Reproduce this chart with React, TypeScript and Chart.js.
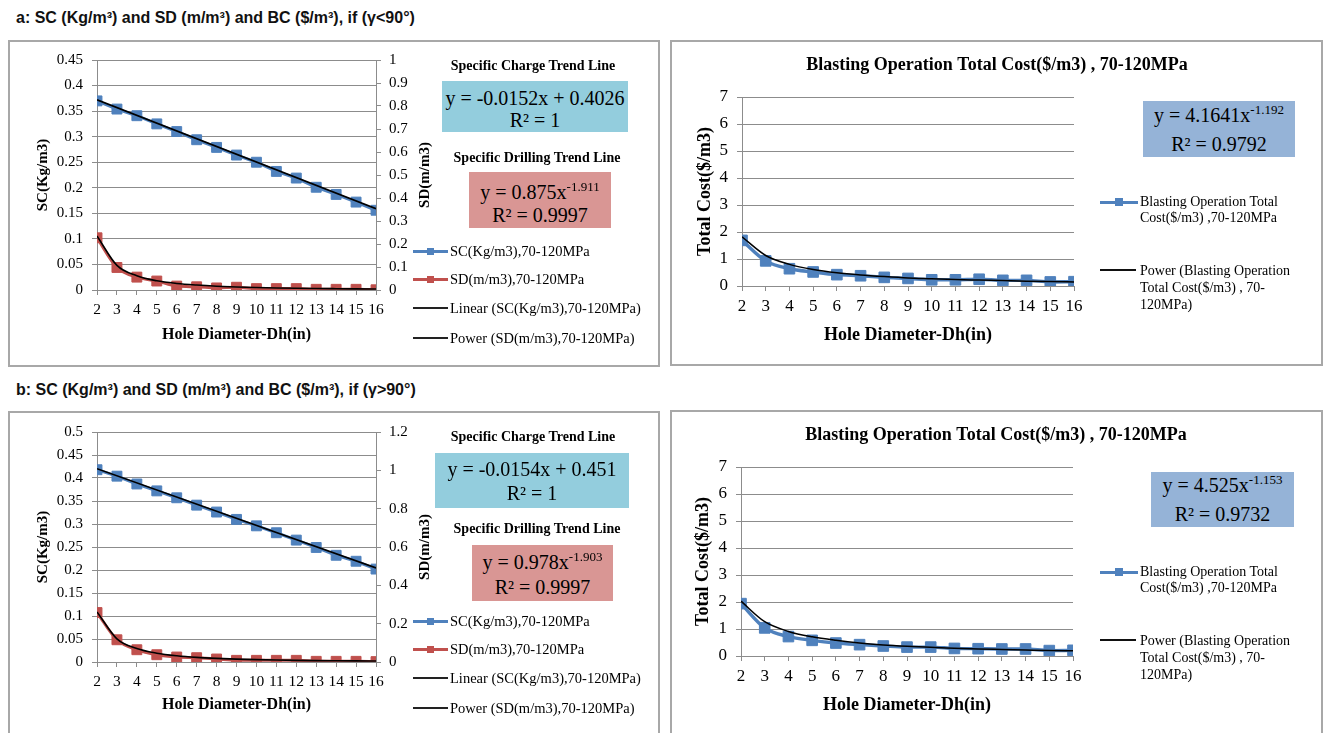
import React, { useEffect, useRef } from "react";
import { Chart, registerables } from "chart.js";

Chart.register(...registerables);
Chart.defaults.font.family = '"Liberation Serif", "Times New Roman", serif';
Chart.defaults.color = "#000";

// ---------- data ----------
const DIAMETERS = [2, 3, 4, 5, 6, 7, 8, 9, 10, 11, 12, 13, 14, 15, 16];
const LINEAR_TREND_X = [2, 16];

// case a (γ<90°)
const SC_A = [0.37, 0.354, 0.341, 0.325, 0.31, 0.294, 0.279, 0.264, 0.25, 0.232, 0.219, 0.201, 0.187, 0.172, 0.156];
const SD_A = [0.227, 0.098, 0.056, 0.039, 0.017, 0.014, 0.009, 0.012, 0.006, 0.006, 0.006, 0.003, 0.003, 0.003, 0.001];
const SC_TREND_A = [0.372, 0.159];
const SD_TREND_A = [0.235, 0.107, 0.062, 0.04, 0.0285, 0.0215, 0.0165, 0.0131, 0.0108, 0.009, 0.0076, 0.0065, 0.0057, 0.005, 0.0044];
const BC_A = [1.69, 0.93, 0.64, 0.52, 0.42, 0.38, 0.32, 0.28, 0.23, 0.23, 0.25, 0.21, 0.21, 0.15, 0.16];
const BC_TREND_A = [1.82, 1.13, 0.8, 0.61, 0.49, 0.41, 0.35, 0.3, 0.27, 0.24, 0.22, 0.2, 0.18, 0.165, 0.152];

// case b (γ>90°)
const SC_B = [0.418, 0.404, 0.387, 0.372, 0.357, 0.341, 0.326, 0.31, 0.296, 0.281, 0.265, 0.249, 0.232, 0.219, 0.202];
const SD_B = [0.258, 0.116, 0.064, 0.038, 0.026, 0.0225, 0.0156, 0.0087, 0.0087, 0.0087, 0.0087, 0.0035, 0.0035, 0.0035, 0.002];
const SC_TREND_B = [0.4202, 0.2046];
const SD_TREND_B = [0.2615, 0.121, 0.07, 0.0458, 0.0323, 0.024, 0.0187, 0.0149, 0.0122, 0.0101, 0.0086, 0.0074, 0.0065, 0.0057, 0.0051];
const BC_B = [1.94, 1.04, 0.72, 0.58, 0.48, 0.42, 0.37, 0.33, 0.33, 0.28, 0.27, 0.26, 0.26, 0.2, 0.21];
const BC_TREND_B = [2.03, 1.27, 0.91, 0.71, 0.58, 0.48, 0.41, 0.36, 0.32, 0.29, 0.26, 0.24, 0.22, 0.2, 0.19];

// axis ranges (tick labels)
const SC_AXIS_A = { max: 0.45, step: 0.05 };
const SD_AXIS_A = { max: 1, step: 0.1 };
const SC_AXIS_B = { max: 0.5, step: 0.05 };
const SD_AXIS_B = { max: 1.2, step: 0.2 };
const BC_AXIS = { max: 7, step: 1 };

// texts
const SECTION_A = "a: SC (Kg/m³) and SD (m/m³) and BC ($/m³), if (γ<90°)";
const SECTION_B = "b: SC (Kg/m³) and SD (m/m³) and BC ($/m³), if (γ>90°)";
const X_TITLE = "Hole Diameter-Dh(in)";
const SC_TITLE = "SC(Kg/m3)";
const SD_TITLE = "SD(m/m3)";
const BC_Y_TITLE = "Total Cost($/m3)";
const BC_CHART_TITLE = "Blasting Operation Total Cost($/m3) , 70-120MPa";
const LEG_SC = "SC(Kg/m3),70-120MPa";
const LEG_SD = "SD(m/m3),70-120MPa";
const LEG_LIN = "Linear (SC(Kg/m3),70-120MPa)";
const LEG_POW = "Power (SD(m/m3),70-120MPa)";
const LEG_BC = ["Blasting Operation Total", "Cost($/m3) ,70-120MPa"];
const LEG_BC_POW = ["Power (Blasting Operation", "Total Cost($/m3) , 70-", "120MPa)"];

// ---------- styles ----------
const BLUE = "#4F81BD";
const RED = "#C0504D";
const GRID = "#8c8c8c";
const SERIF = '"Liberation Serif", "Times New Roman", serif';

const pts = (xs: number[], ys: number[]) => xs.map((x, i) => ({ x, y: ys[i] }));
const fmt = (v: any) => String(parseFloat(Number(v).toFixed(3)));

const sideTitlePlugin = {
  id: "sideTitle",
  afterDraw(chart: any, _args: any, opts: any) {
    if (!opts || !opts.text) return;
    const { ctx, chartArea } = chart;
    ctx.save();
    ctx.translate(opts.x, (chartArea.top + chartArea.bottom) / 2);
    ctx.rotate(-Math.PI / 2);
    ctx.textAlign = "center";
    ctx.textBaseline = "middle";
    ctx.fillStyle = "#000";
    ctx.font = `bold ${opts.size}px ${SERIF}`;
    ctx.fillText(opts.text, 0, 0);
    ctx.restore();
  },
};

function dualConfig(o: any) {
  return {
    type: "line",
    data: {
      datasets: [
        { label: LEG_LIN, data: pts(LINEAR_TREND_X, o.scTrend), yAxisID: "y", borderColor: "#000", borderWidth: 1.6, pointRadius: 0, order: 0 },
        { label: LEG_POW, data: pts(DIAMETERS, o.sdTrend), yAxisID: "y1", borderColor: "#000", borderWidth: 1.6, pointRadius: 0, cubicInterpolationMode: "monotone", order: 0 },
        { label: LEG_SC, data: pts(DIAMETERS, o.sc), yAxisID: "y", borderColor: BLUE, backgroundColor: BLUE, borderWidth: 3, pointStyle: "rect", pointRadius: 7, pointBorderWidth: 1, pointBackgroundColor: BLUE, pointBorderColor: BLUE, order: 1 },
        { label: LEG_SD, data: pts(DIAMETERS, o.sd), yAxisID: "y1", borderColor: RED, backgroundColor: RED, borderWidth: 3, pointStyle: "rect", pointRadius: 7, pointBorderWidth: 1, pointBackgroundColor: RED, pointBorderColor: RED, cubicInterpolationMode: "monotone", order: 1 },
      ],
    },
    options: {
      animation: false,
      responsive: false,
      devicePixelRatio: 1,
      layout: { padding: o.padding },
      plugins: {
        legend: { display: false },
        tooltip: { enabled: false },
        sideTitle: { text: SD_TITLE, x: o.sideX, size: 15 },
      },
      scales: {
        x: {
          type: "linear", min: 2, max: 16,
          ticks: { stepSize: 1, autoSkip: false, maxRotation: 0, font: { size: 15.5 }, color: "#000", padding: 6 },
          grid: { drawOnChartArea: false, drawTicks: true, tickLength: 5, color: GRID },
          border: { display: true, color: GRID },
          title: { display: true, text: X_TITLE, font: { size: 16, weight: "bold" }, color: "#000", padding: 0 },
          afterFit: (s: any) => { s.height = o.xHeight; },
        },
        y: {
          position: "left", min: 0, max: o.yAxis.max,
          ticks: { stepSize: o.yAxis.step, font: { size: 15 }, color: "#000", padding: 9, callback: fmt },
          grid: { color: GRID, tickLength: 5 },
          border: { display: true, color: GRID },
          title: { display: true, text: SC_TITLE, font: { size: 15, weight: "bold" }, color: "#000", padding: 0 },
          afterFit: (s: any) => { s.width = o.yWidth; },
        },
        y1: {
          position: "right", min: 0, max: o.y1Axis.max,
          ticks: { stepSize: o.y1Axis.step, font: { size: 15 }, color: "#000", padding: 8, callback: fmt },
          grid: { drawOnChartArea: false, color: GRID, tickLength: 5 },
          border: { display: true, color: GRID },
          afterFit: (s: any) => { s.width = o.y1Width; },
        },
      },
    },
    plugins: [sideTitlePlugin],
  };
}

function costConfig(o: any) {
  return {
    type: "line",
    data: {
      datasets: [
        { label: LEG_BC_POW.join(" "), data: pts(DIAMETERS, o.trend), borderColor: "#000", borderWidth: 1.5, pointRadius: 0, cubicInterpolationMode: "monotone", order: 0 },
        { label: LEG_BC.join(" "), data: pts(DIAMETERS, o.bc), borderColor: BLUE, backgroundColor: BLUE, borderWidth: 3.4, pointStyle: "rect", pointRadius: 7.5, pointBorderWidth: 1, pointBackgroundColor: BLUE, pointBorderColor: BLUE, cubicInterpolationMode: "monotone", order: 1 },
      ],
    },
    options: {
      animation: false,
      responsive: false,
      devicePixelRatio: 1,
      layout: { padding: o.padding },
      plugins: {
        legend: { display: false },
        tooltip: { enabled: false },
        title: { display: true, text: BC_CHART_TITLE, font: { size: 18, weight: "bold" }, color: "#000", padding: { top: 11.2, bottom: 21.2 } },
      },
      scales: {
        x: {
          type: "linear", min: 2, max: 16,
          ticks: { stepSize: 1, autoSkip: false, maxRotation: 0, font: { size: 17 }, color: "#000", padding: 5 },
          grid: { drawOnChartArea: false, drawTicks: true, tickLength: 5, color: GRID },
          border: { display: true, color: GRID },
          title: { display: true, text: X_TITLE, font: { size: 18, weight: "bold" }, color: "#000", padding: 0 },
          afterFit: (s: any) => { s.height = o.xHeight; },
        },
        y: {
          position: "left", min: 0, max: BC_AXIS.max,
          ticks: { stepSize: BC_AXIS.step, font: { size: 17 }, color: "#000", padding: 9, callback: fmt },
          grid: { color: GRID, tickLength: 5 },
          border: { display: true, color: GRID },
          title: { display: true, text: BC_Y_TITLE, font: { size: 18, weight: "bold" }, color: "#000", padding: 0 },
          afterFit: (s: any) => { s.width = o.yWidth; },
        },
        yR: {
          position: "right", display: true,
          ticks: { display: false },
          grid: { display: false, drawTicks: false },
          border: { display: false },
          afterFit: (s: any) => { s.width = o.yRWidth; },
        },
      },
    },
  };
}

function ChartCanvas({ config, left, top, width, height }: any) {
  const ref = useRef<HTMLCanvasElement>(null);
  useEffect(() => {
    const chart = new Chart(ref.current as HTMLCanvasElement, config);
    return () => chart.destroy();
  }, []);
  return (
    <canvas
      ref={ref}
      width={width}
      height={height}
      style={{ position: "absolute", left, top, width, height }}
    />
  );
}

function Panel({ left, top, width, height }: any) {
  return (
    <div
      style={{
        position: "absolute", left, top, width, height, boxSizing: "border-box",
        border: "2px solid #a8a8a8", background: "#fff",
      }}
    />
  );
}

function Sample({ x, y, w, color, lw, marker }: any) {
  return (
    <>
      <div style={{ position: "absolute", left: x, top: y - lw / 2, width: w, height: lw, background: color }} />
      {marker ? (
        <div style={{ position: "absolute", left: x + w / 2 - marker / 2, top: y - marker / 2, width: marker, height: marker, background: color }} />
      ) : null}
    </>
  );
}

function TextLines({ x, y, lines, size, lh }: any) {
  return (
    <div
      style={{
        position: "absolute", left: x, top: y - lh / 2, fontFamily: SERIF, fontSize: size,
        lineHeight: `${lh}px`, whiteSpace: "nowrap", color: "#000",
      }}
    >
      {lines.map((l: string, i: number) => (
        <div key={i}>{l}</div>
      ))}
    </div>
  );
}

function CenterText({ cx, cy, text, size, bold }: any) {
  return (
    <div
      style={{
        position: "absolute", left: cx - 150, width: 300, top: cy - size * 0.6, textAlign: "center",
        fontFamily: SERIF, fontSize: size, fontWeight: bold ? "bold" : "normal", lineHeight: `${size * 1.2}px`,
        whiteSpace: "nowrap", color: "#000",
      }}
    >
      {text}
    </div>
  );
}

function EqBox({ left, top, width, height, bg, padTop, lh, size, line1, sup, line2 }: any) {
  return (
    <div
      style={{
        position: "absolute", left, top, width, height, background: bg, boxSizing: "border-box",
        paddingTop: padTop, textAlign: "center", fontFamily: SERIF, color: "#000",
      }}
    >
      <div style={{ fontSize: size, lineHeight: `${lh}px`, whiteSpace: "nowrap" }}>
        {line1}
        {sup ? <span style={{ fontSize: 13, position: "relative", top: -8 }}>{sup}</span> : null}
      </div>
      <div style={{ fontSize: size, lineHeight: `${lh}px`, whiteSpace: "nowrap" }}>{line2}</div>
    </div>
  );
}

function SectionLabel({ top, text }: any) {
  return (
    <div
      style={{
        position: "absolute", left: 16, top, fontFamily: '"Liberation Sans", Arial, sans-serif',
        fontWeight: "bold", fontSize: 16, lineHeight: "20px", whiteSpace: "nowrap", color: "#111",
      }}
    >
      {text}
    </div>
  );
}

function DualLegend({ rows }: any) {
  const items = [
    { label: LEG_SC, color: BLUE, lw: 3, marker: 7 },
    { label: LEG_SD, color: RED, lw: 3, marker: 7 },
    { label: LEG_LIN, color: "#222", lw: 1.5, marker: 0 },
    { label: LEG_POW, color: "#222", lw: 1.5, marker: 0 },
  ];
  return (
    <>
      {items.map((it, i) => (
        <React.Fragment key={i}>
          <Sample x={413} y={rows[i]} w={35} color={it.color} lw={it.lw} marker={it.marker} />
          <TextLines x={450} y={rows[i]} lines={[it.label]} size={14.5} lh={17} />
        </React.Fragment>
      ))}
    </>
  );
}

function CostLegend({ y1, y2 }: any) {
  return (
    <>
      <Sample x={1100} y={y1} w={38} color={BLUE} lw={3} marker={8} />
      <TextLines x={1140} y={y1} lines={LEG_BC} size={14} lh={16.5} />
      <Sample x={1100} y={y2} w={36} color="#111" lw={1.5} marker={0} />
      <TextLines x={1140} y={y2} lines={LEG_BC_POW} size={14} lh={17} />
    </>
  );
}

export default function App() {
  const cfgTL = dualConfig({
    sc: SC_A, sd: SD_A, scTrend: SC_TREND_A, sdTrend: SD_TREND_A,
    yAxis: SC_AXIS_A, y1Axis: SD_AXIS_A,
    padding: { left: 24, top: 17, right: 6, bottom: 17.4 },
    yWidth: 63, y1Width: 58, xHeight: 54.6, sideX: 415,
  });
  const cfgBL = dualConfig({
    sc: SC_B, sd: SD_B, scTrend: SC_TREND_B, sdTrend: SD_TREND_B,
    yAxis: SC_AXIS_B, y1Axis: SD_AXIS_B,
    padding: { left: 24, top: 17, right: 6, bottom: 16.4 },
    yWidth: 63, y1Width: 58, xHeight: 52.6, sideX: 415,
  });
  const cfgTR = costConfig({
    bc: BC_A, trend: BC_TREND_A,
    padding: { left: 22.2, top: 0, right: 22.2, bottom: 17.2 },
    yWidth: 47.8, yRWidth: 225.8, xHeight: 59.8,
  });
  const cfgBR = costConfig({
    bc: BC_B, trend: BC_TREND_B,
    padding: { left: 20.2, top: 0, right: 22.2, bottom: 15.2 },
    yWidth: 48.8, yRWidth: 226.8, xHeight: 59.8,
  });

  return (
    <div style={{ position: "absolute", left: 0, top: 0, width: 1325, height: 733, overflow: "hidden", background: "#fff" }}>
      <SectionLabel top={8} text={SECTION_A} />
      <SectionLabel top={380} text={SECTION_B} />

      <Panel left={8} top={40} width={652} height={327} />
      <Panel left={670} top={40} width={653} height={326} />
      <Panel left={8} top={411} width={652} height={340} />
      <Panel left={670} top={410} width={653} height={340} />

      <ChartCanvas config={cfgTL} left={10} top={42} width={430} height={320} />
      <ChartCanvas config={cfgTR} left={672} top={43} width={650} height={320} />
      <ChartCanvas config={cfgBL} left={10} top={414} width={430} height={317} />
      <ChartCanvas config={cfgBR} left={672} top={413} width={650} height={318} />

      {/* top-left annotations */}
      <CenterText cx={533} cy={66} text="Specific Charge Trend Line" size={14} bold />
      <EqBox left={442} top={81} width={186} height={51} bg="#93CDDD" padTop={6} lh={22} size={20}
        line1="y = -0.0152x + 0.4026" line2="R² = 1" />
      <CenterText cx={537} cy={158} text="Specific Drilling Trend Line" size={14} bold />
      <EqBox left={469} top={172} width={142} height={56} bg="#D99694" padTop={9.5} lh={21} size={20}
        line1="y = 0.875x" sup="-1.911" line2="R² = 0.9997" />
      <DualLegend rows={[251, 279, 308, 338]} />

      {/* bottom-left annotations */}
      <CenterText cx={533} cy={437} text="Specific Charge Trend Line" size={14} bold />
      <EqBox left={435} top={453} width={194} height={55} bg="#93CDDD" padTop={4} lh={24} size={20}
        line1="y = -0.0154x + 0.451" line2="R² = 1" />
      <CenterText cx={537} cy={529} text="Specific Drilling Trend Line" size={14} bold />
      <EqBox left={472} top={545} width={141} height={56} bg="#D99694" padTop={5.5} lh={23} size={20}
        line1="y = 0.978x" sup="-1.903" line2="R² = 0.9997" />
      <DualLegend rows={[621, 649, 678, 708]} />

      {/* right annotations */}
      <EqBox left={1143} top={101} width={152} height={56} bg="#95B3D7" padTop={0.5} lh={27} size={20}
        line1="y = 4.1641x" sup="-1.192" line2="R² = 0.9792" />
      <CostLegend y1={202} y2={270} />
      <EqBox left={1151} top={472} width={143} height={55} bg="#95B3D7" padTop={0} lh={27} size={20}
        line1="y = 4.525x" sup="-1.153" line2="R² = 0.9732" />
      <CostLegend y1={572} y2={640} />
    </div>
  );
}
